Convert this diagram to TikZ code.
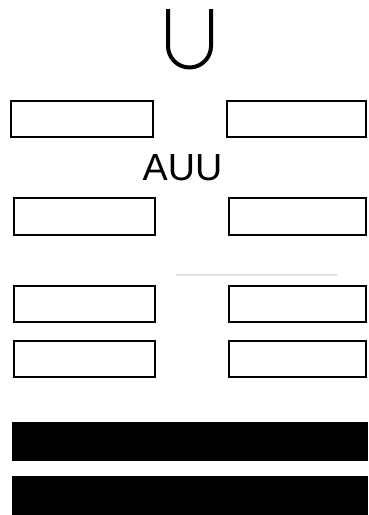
\documentclass[tikz,border=0pt]{standalone}
\usepackage{fontspec}
\setmainfont{Liberation Sans}
\begin{document}
\begin{tikzpicture}[x=1pt,y=-1pt,
  slot/.style={draw=black,line width=2pt,fill=white},
  bar/.style={fill=black},
  lbl/.style={font=\fontsize{37.7}{40}\selectfont,inner sep=0pt,anchor=base}]
\useasboundingbox (0,0) rectangle (368,515);
\fill[white] (0,0) rectangle (368,515);
% U shape
\draw[line width=4pt] (168,9) -- (168,46) arc[start angle=180,end angle=360,radius=21.5pt] -- (211,9);
% row 1
\draw[slot] (11,101) rectangle (153,137);
\draw[slot] (227,101) rectangle (366,137);
\node[lbl] (auu) at (182.5,180) {AUU};
% row 2
\draw[slot] (14,198) rectangle (155,235);
\draw[slot] (229,198) rectangle (366,235);
% faint line
\draw[black!12,line width=1.5pt] (176,275) -- (337,275);
% rows 3 and 4
\draw[slot] (14,286) rectangle (155,322);
\draw[slot] (229,286) rectangle (366,322);
\draw[slot] (14,341) rectangle (155,377);
\draw[slot] (229,341) rectangle (366,377);
% black bars
\fill[bar] (12,422) rectangle (368,461);
\fill[bar] (12,476) rectangle (368,515);
\end{tikzpicture}
\end{document}
